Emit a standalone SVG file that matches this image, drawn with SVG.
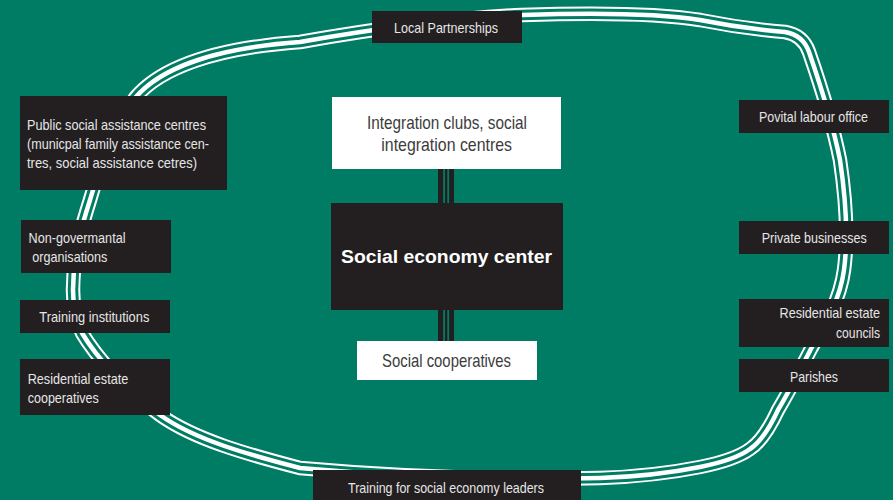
<svg xmlns="http://www.w3.org/2000/svg" width="893" height="500" viewBox="0 0 893 500">
<defs>
<style>
.bg{fill:#007c64}
.dark{fill:#231f20}
.white{fill:#ffffff}
.t{font-family:"Liberation Sans Narrow","Liberation Sans",sans-serif;font-size:15px;fill:#e6e6e6}
.tw{font-family:"Liberation Sans Narrow","Liberation Sans",sans-serif;font-size:18.5px;fill:#3c3c3c}
.tb{font-family:"Liberation Sans",sans-serif;font-weight:bold;font-size:19px;fill:#ffffff}
.r1{fill:none;stroke:#ffffff;stroke-width:14.5}
.r2{fill:none;stroke:#007c64;stroke-width:10.5}
.r3{fill:none;stroke:#ffffff;stroke-width:4.5}
</style>
<path id="ring" d="M 300 42 C 380 28 450 18 522 15 C 580 13 650 12 700 20 C 730 26 760 30 785 32 Q 803 35 809 52 C 818 78 832 120 840 160 C 846 200 848 240 844 270 C 840 300 825 325 812 347 C 800 370 790 390 778 410 Q 764 440 750 449 Q 735 460 700 467 C 670 473 630 477 600 478 C 500 480 400 477 300 468 C 250 455 195 440 160 415 C 125 390 95 355 82 333 C 76 320 73 305 73 290 C 73 255 82 225 90 200 C 100 165 115 125 135 98 C 160 68 215 48 300 42 Z"/>
</defs>
<rect class="bg" x="0" y="0" width="893" height="500"/>
<g id="connectors">
<use href="#ring" class="r1"/>
<use href="#ring" class="r2"/>
<use href="#ring" class="r3"/>
<g id="link-top">
<rect class="dark" x="438" y="168" width="16" height="36"/>
<rect class="bg" x="443.2" y="168" width="1.8" height="36"/>
<rect class="bg" x="447.3" y="168" width="1.8" height="36"/>
</g>
<g id="link-bottom">
<rect class="dark" x="438" y="309" width="16" height="33"/>
<rect class="bg" x="443.2" y="309" width="1.8" height="33"/>
<rect class="bg" x="447.3" y="309" width="1.8" height="33"/>
</g>
</g>
<g id="local-partnerships">
<rect class="dark" x="372" y="11" width="150" height="32"/>
<text class="t" x="394" y="33" textLength="104" lengthAdjust="spacingAndGlyphs">Local Partnerships</text>
</g>
<g id="public-social">
<rect class="dark" x="20" y="96" width="207" height="94"/>
<text class="t" x="27" y="130" textLength="179" lengthAdjust="spacingAndGlyphs">Public social assistance centres</text>
<text class="t" x="27" y="149" textLength="182" lengthAdjust="spacingAndGlyphs">(municpal family assistance cen-</text>
<text class="t" x="27" y="168" textLength="170" lengthAdjust="spacingAndGlyphs">tres, social assistance cetres)</text>
</g>
<g id="ngo">
<rect class="dark" x="21" y="220" width="150" height="53"/>
<text class="t" x="28.5" y="243" textLength="97" lengthAdjust="spacingAndGlyphs">Non-govermantal</text>
<text class="t" x="32.3" y="262" textLength="75" lengthAdjust="spacingAndGlyphs">organisations</text>
</g>
<g id="training-institutions">
<rect class="dark" x="20" y="300" width="150" height="33"/>
<text class="t" x="39.3" y="322" textLength="110" lengthAdjust="spacingAndGlyphs">Training institutions</text>
</g>
<g id="res-coop">
<rect class="dark" x="20" y="359" width="150" height="56"/>
<text class="t" x="27.7" y="384" textLength="100.6" lengthAdjust="spacingAndGlyphs">Residential estate</text>
<text class="t" x="27.7" y="403" textLength="71" lengthAdjust="spacingAndGlyphs">cooperatives</text>
</g>
<g id="labour-office">
<rect class="dark" x="739" y="100" width="150" height="33"/>
<text class="t" x="759" y="122" textLength="109" lengthAdjust="spacingAndGlyphs">Povital labour office</text>
</g>
<g id="private-businesses">
<rect class="dark" x="739" y="221" width="150" height="33"/>
<text class="t" x="761.7" y="243" textLength="105" lengthAdjust="spacingAndGlyphs">Private businesses</text>
</g>
<g id="res-councils">
<rect class="dark" x="739" y="299" width="150" height="48"/>
<text class="t" x="779.5" y="318" textLength="100.5" lengthAdjust="spacingAndGlyphs">Residential estate</text>
<text class="t" x="836" y="338" textLength="44" lengthAdjust="spacingAndGlyphs">councils</text>
</g>
<g id="parishes">
<rect class="dark" x="739" y="359" width="150" height="33"/>
<text class="t" x="790" y="382" textLength="48" lengthAdjust="spacingAndGlyphs">Parishes</text>
</g>
<g id="training-leaders">
<rect class="dark" x="313" y="470" width="268" height="30"/>
<text class="t" x="348" y="493" textLength="196" lengthAdjust="spacingAndGlyphs">Training for social economy leaders</text>
</g>
<g id="integration-clubs">
<rect class="white" x="332" y="97" width="229" height="72"/>
<text class="tw" x="367" y="129" textLength="160" lengthAdjust="spacingAndGlyphs">Integration clubs, social</text>
<text class="tw" x="381.3" y="151" textLength="130.7" lengthAdjust="spacingAndGlyphs">integration centres</text>
</g>
<g id="social-economy-center">
<rect class="dark" x="331" y="203" width="232" height="107"/>
<text class="tb" x="341" y="263" textLength="211" lengthAdjust="spacingAndGlyphs">Social economy center</text>
</g>
<g id="social-cooperatives">
<rect class="white" x="357" y="341" width="180" height="39"/>
<text class="tw" x="382" y="367" textLength="129" lengthAdjust="spacingAndGlyphs">Social cooperatives</text>
</g>
</svg>
